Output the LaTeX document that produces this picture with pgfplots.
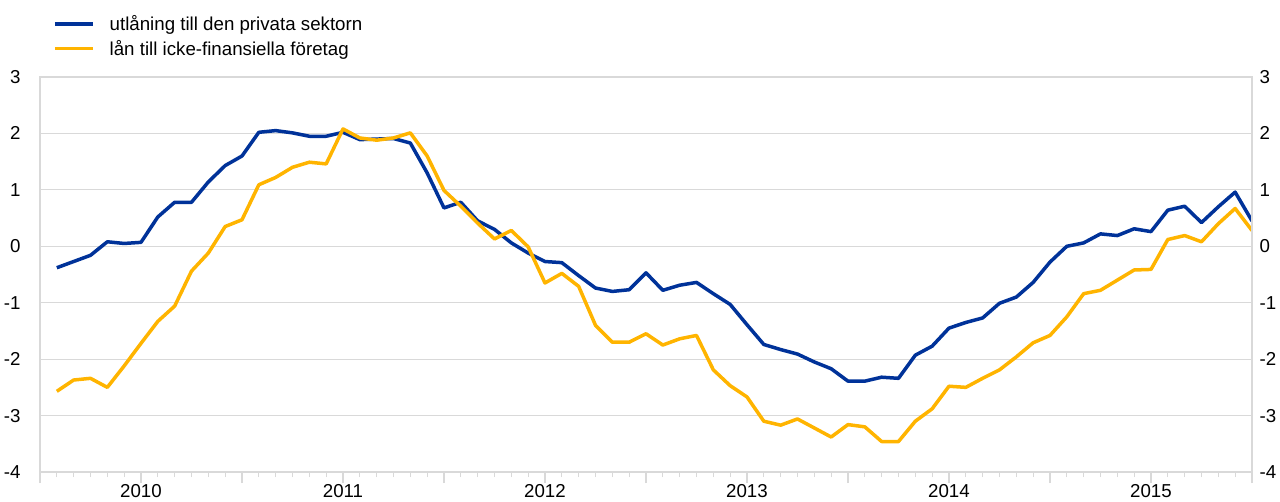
\documentclass[border=0pt]{standalone}
\usepackage{pgfplots}
\usepackage{pgfplotstable}
\usepackage{fontspec}
\setmainfont{Liberation Sans}
\pgfplotsset{compat=1.18}

\definecolor{ecbblue}{HTML}{003299}
\definecolor{ecbyellow}{HTML}{FFB400}
\definecolor{gridgray}{HTML}{D9D9D9}

% monthly values, k = 1 (Jan 2010) ... 72 (Dec 2015)
\pgfplotstableread{
k blue yellow
1 -0.38 -2.57
2 -0.27 -2.37
3 -0.16 -2.34
4 0.08 -2.50
5 0.05 -2.12
6 0.07 -1.72
7 0.52 -1.33
8 0.78 -1.06
9 0.78 -0.44
10 1.14 -0.12
11 1.43 0.35
12 1.60 0.47
13 2.02 1.09
14 2.05 1.22
15 2.01 1.40
16 1.95 1.49
17 1.95 1.46
18 2.02 2.08
19 1.89 1.92
20 1.90 1.88
21 1.91 1.92
22 1.83 2.01
23 1.30 1.60
24 0.68 0.99
25 0.78 0.71
26 0.45 0.41
27 0.30 0.13
28 0.06 0.28
29 -0.12 -0.01
30 -0.27 -0.65
31 -0.29 -0.48
32 -0.52 -0.71
33 -0.74 -1.40
34 -0.80 -1.70
35 -0.77 -1.70
36 -0.47 -1.55
37 -0.78 -1.75
38 -0.69 -1.64
39 -0.64 -1.58
40 -0.84 -2.19
41 -1.03 -2.47
42 -1.39 -2.67
43 -1.74 -3.10
44 -1.83 -3.17
45 -1.91 -3.06
46 -2.05 -3.22
47 -2.17 -3.38
48 -2.39 -3.16
49 -2.39 -3.20
50 -2.32 -3.46
51 -2.34 -3.46
52 -1.93 -3.10
53 -1.77 -2.88
54 -1.45 -2.48
55 -1.35 -2.50
56 -1.27 -2.34
57 -1.01 -2.19
58 -0.90 -1.96
59 -0.64 -1.71
60 -0.28 -1.58
61 0.00 -1.25
62 0.06 -0.84
63 0.22 -0.78
64 0.19 -0.60
65 0.31 -0.42
66 0.26 -0.41
67 0.64 0.12
68 0.71 0.19
69 0.42 0.08
70 0.70 0.40
71 0.96 0.67
72 0.45 0.28
}\data

\pgfplotsset{
  every tick label/.append style={font=\fontsize{18.7bp}{22bp}\selectfont, text=black},
  base/.style={
    scale only axis, width=1212bp, height=395bp,
    xmin=0, xmax=72, ymin=-4, ymax=3,
    ytick={-4,...,3},
    yticklabels={-4,-3,-2,-1,0,1,2,3},
    ytick style={draw=none},
    axis line style={draw=gridgray, line width=1.2bp},
  },
}

\begin{document}
\begin{tikzpicture}
\begin{axis}[base,
  ymajorgrids,
  grid style={draw=gridgray, line width=1.2bp},
  xtick={0,6,...,72},
  xticklabels={,2010,,2011,,2012,,2013,,2014,,2015,},
  minor xtick={0,...,72},
  xtick pos=bottom,
  tick align=outside,
  major x tick style={draw=gridgray, line width=1.2bp},
  minor x tick style={draw=gridgray, line width=1.2bp},
  major tick length=11bp,
  minor tick length=5bp,
  xticklabel style={inner sep=0pt, yshift=-1.5bp},
  yticklabel style={xshift=-5bp},
  legend style={draw=none, fill=none, at={(0,1)}, anchor=south west,
    xshift=13bp, yshift=18bp, inner sep=0pt, row sep=4bp,
    font=\fontsize{18.7bp}{22bp}\selectfont,
    /tikz/every odd column/.append style={column sep=13bp}},
  legend cell align=left,
  legend image code/.code={\draw[#1] (0bp,0bp) -- (38bp,0bp);},
  every axis plot/.append style={line width=3.5bp, line join=round},
]
\addplot[ecbblue] table[x=k, y=blue] {\data};
\addlegendentry{utlåning till den privata sektorn}
\addplot[ecbyellow] table[x=k, y=yellow] {\data};
\addlegendentry{lån till icke-finansiella företag}
\end{axis}
\begin{axis}[base,
  axis x line=none,
  axis y line*=right,
  yticklabel style={xshift=4bp, anchor=west},
]
\end{axis}
\pgfresetboundingbox
\path[use as bounding box] (-40bp,-30bp) rectangle (1240bp,472bp);
\end{tikzpicture}
\end{document}
